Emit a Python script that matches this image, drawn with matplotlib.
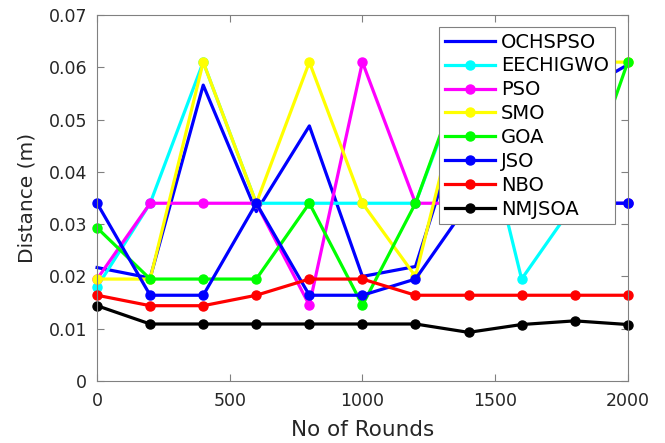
import matplotlib
matplotlib.use("Agg")
import matplotlib.pyplot as plt

rounds = [0, 200, 400, 600, 800, 1000, 1200, 1400, 1600, 1800, 2000]

ochspso  = [0.0217, 0.0197, 0.0566, 0.0324, 0.0488, 0.0200, 0.0219, 0.0540, 0.0560, 0.0547, 0.0605]
eechigwo = [0.0180, 0.0340, 0.0610, 0.0340, 0.0340, 0.0340, 0.0340, 0.0610, 0.0195, 0.0340, 0.0340]
pso      = [0.0195, 0.0340, 0.0340, 0.0340, 0.0145, 0.0610, 0.0340, 0.0340, 0.0340, 0.0340, 0.0340]
smo      = [0.0195, 0.0195, 0.0610, 0.0340, 0.0610, 0.0340, 0.0200, 0.0610, 0.0610, 0.0610, 0.0610]
goa      = [0.0293, 0.0195, 0.0195, 0.0195, 0.0340, 0.0145, 0.0340, 0.0620, 0.0500, 0.0320, 0.0610]
jso      = [0.0340, 0.0164, 0.0164, 0.0340, 0.0164, 0.0164, 0.0195, 0.0340, 0.0340, 0.0340, 0.0340]
nbo      = [0.0164, 0.0144, 0.0144, 0.0164, 0.0195, 0.0195, 0.0164, 0.0164, 0.0164, 0.0164, 0.0164]
nmjsoa   = [0.0144, 0.0109, 0.0109, 0.0109, 0.0109, 0.0109, 0.0109, 0.0093, 0.0108, 0.0115, 0.0108]

series = [
    ("OCHSPSO", ochspso, "#0000ff", None),
    ("EECHIGWO", eechigwo, "#00ffff", "o"),
    ("PSO", pso, "#ff00ff", "o"),
    ("SMO", smo, "#ffff00", "o"),
    ("GOA", goa, "#00ff00", "o"),
    ("JSO", jso, "#0000ff", "o"),
    ("NBO", nbo, "#ff0000", "o"),
    ("NMJSOA", nmjsoa, "#000000", "o"),
]

plt.rcParams['font.family'] = ['DejaVu Sans']

fig = plt.figure(figsize=(6.65, 4.43), dpi=100)
ax = fig.add_axes([0.146, 0.14, 0.798, 0.826])

for name, vals, col, mk in series:
    ax.plot(rounds, vals, color=col, lw=2.3, marker=mk, markersize=6.5,
            label=name, clip_on=False)

ax.set_xlim(0, 2000)
ax.set_ylim(0, 0.07)
ax.set_xticks([0, 500, 1000, 1500, 2000])
ax.set_yticks([0, 0.01, 0.02, 0.03, 0.04, 0.05, 0.06, 0.07])
ax.set_yticklabels(['0', '0.01', '0.02', '0.03', '0.04', '0.05', '0.06', '0.07'])

grey = '#808080'
for s in ax.spines.values():
    s.set_color(grey)
    s.set_linewidth(0.8)
ax.tick_params(direction='in', top=True, right=True, length=5, width=0.8,
               color=grey, labelcolor='#262626', labelsize=12.5)
ax.tick_params(axis='y', pad=7)
ax.tick_params(axis='x', pad=8)
ax.set_xlabel('No of Rounds', fontsize=15.5, color='#262626', labelpad=7)
ax.set_ylabel('Distance (m)', fontsize=14.5, color='#262626', labelpad=9)

leg = ax.legend(loc='upper right', bbox_to_anchor=(0.976, 0.968),
                borderaxespad=0, fontsize=14, frameon=True, fancybox=False,
                edgecolor=grey, framealpha=1, handlelength=2.6,
                labelspacing=0.25, handletextpad=0.3, borderpad=0.3)
leg.get_frame().set_linewidth(0.8)
for t in leg.get_texts():
    t.set_color('#000000')

fig.savefig('out.png', dpi=100)
